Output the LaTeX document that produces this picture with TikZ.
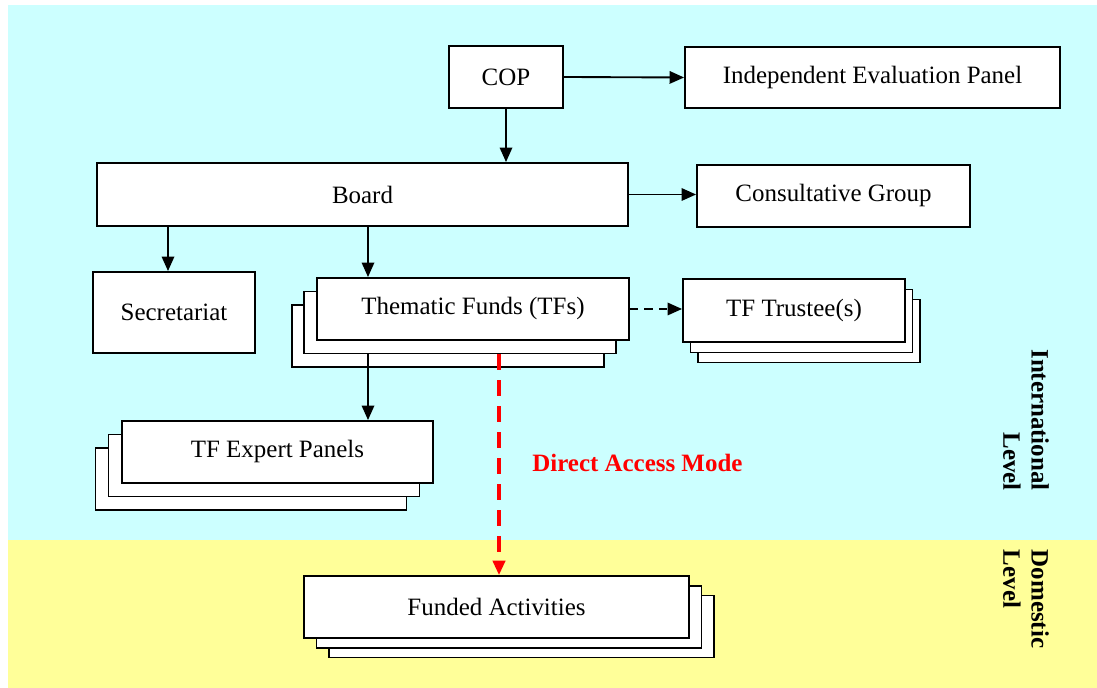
\documentclass[tikz,border=0pt]{standalone}
\usepackage{fontspec}
\setmainfont{Liberation Serif}
\usetikzlibrary{arrows.meta}
\definecolor{intlbg}{HTML}{CCFFFF}
\definecolor{domebg}{HTML}{FFFF99}
\newcommand{\pu}{0.0169cm}

\begin{document}
\begin{tikzpicture}[x=\pu,y=-\pu,
    box/.style={draw,fill=white,line width=0.9pt,inner sep=0pt,font=\fontsize{12}{14}\selectfont},
    wh/.style 2 args={minimum width=#1*\pu,minimum height=#2*\pu},
    arr/.style={-{Triangle[length=7pt,width=6pt]},line width=0.9pt},
    redarr/.style={arr,red,line width=1.5pt,dash pattern=on 7.5pt off 5pt},
    lvl/.style={rotate=-90,font=\fontsize{12}{13.5}\selectfont\bfseries}]
    \useasboundingbox (0,0) rectangle (1097,688);
    \fill[intlbg] (8,5) rectangle (1097,540);
    \fill[domebg] (8,540) rectangle (1097,688);
    \node[box,wh={114}{62}] (cop) at (506,77) {COP};
    \node[box,wh={375}{61}] (iep) at (872.5,77.5) {Independent Evaluation Panel};
    \node[box,wh={531}{63}] (board) at (362.5,194.5) {Board};
    \node[box,wh={273}{62}] (cg) at (833.5,196) {Consultative Group};
    \node[box,wh={162}{81}] (sec) at (174,312.5) {Secretariat};
    %\node (tfA) at (435,349.5) {};
    \node[box,wh={312}{62}] (tfC) at (448,336) {};
    \node[box,wh={312}{62}] (tfB) at (460,322.5) {};
    \node[box,wh={312}{62}] (tf) at (473,309) {Thematic Funds (TFs)};
    \node[box,wh={222}{63}] (trusteeC) at (809,331) {};
    \node[box,wh={222}{63}] (trusteeB) at (801.5,321) {};
    \node[box,wh={222}{63}] (trustee) at (794,310.5) {TF Trustee(s)};
    \node[box,wh={311}{62}] (expertC) at (251,479) {};
    \node[box,wh={311}{62}] (expertB) at (264,465.5) {};
    \node[box,wh={311}{62}] (expert) at (277.5,452) {TF Expert Panels};
    \node[box,wh={385}{62}] (fundedC) at (521.5,626.5) {};
    \node[box,wh={385}{62}] (fundedB) at (509,617) {};
    \node[box,wh={385}{62}] (funded) at (496.5,607) {Funded Activities};
    \coordinate (secin) at ([shift={(-6,0)}]sec.north);
    \coordinate (tfin) at ([shift={(-105,0)}]tf.north);
    \coordinate (expout) at ([shift={(-92,0)}]tfB.south);
    \coordinate (damout) at ([shift={(39,0)}]tfB.south);
    \draw [arr] (cop.east) -- (iep.west);
    \draw [arr] (cop.south) -- (cop.south |- board.north);
    \draw [arr] (board.east) -- (board.east -| cg.west);
    \draw [arr] (secin |- board.south) -- (secin);
    \draw [arr] (tfin |- board.south) -- (tfin);
    \draw [arr,dash pattern=on 4pt off 3pt] (tf.east) -- (tf.east -| trustee.west);
    \draw [arr] (expout) -- (expout |- expert.north);
    \draw [redarr] (damout) -- (damout |- funded.north);
    \node[anchor=west,text=red,font=\fontsize{12}{14}\selectfont\bfseries] (dam) at (525,463) {Direct Access Mode};
    \node[lvl,align=right] (intl) at (1026,420) {International\\Level};
    \node[lvl,align=left] (dome) at (1026,599) {Domestic\\Level};
  \end{tikzpicture}
\end{document}
